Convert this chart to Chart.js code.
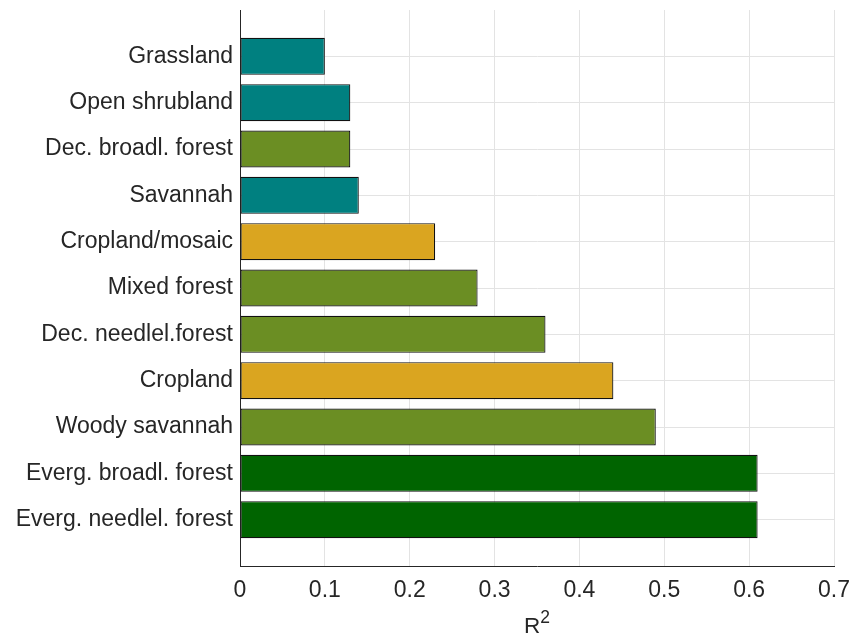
<!DOCTYPE html>
<html>
<head>
<meta charset="utf-8">
<script src="https://cdn.jsdelivr.net/npm/chart.js@4.4.1/dist/chart.umd.min.js"></script>
<style>
  html, body { margin: 0; padding: 0; background: #ffffff; }
  #wrap { width: 851px; height: 638px; position: relative; }
</style>
</head>
<body>
<div id="wrap"><canvas id="c" width="851" height="638"></canvas></div>
<script>
// Land-cover classes, top to bottom
const categories = [
  'Grassland',
  'Open shrubland',
  'Dec. broadl. forest',
  'Savannah',
  'Cropland/mosaic',
  'Mixed forest',
  'Dec. needlel.forest',
  'Cropland',
  'Woody savannah',
  'Everg. broadl. forest',
  'Everg. needlel. forest'
];
// Coefficient of determination per class
const r2Values = [0.10, 0.13, 0.13, 0.14, 0.23, 0.28, 0.36, 0.44, 0.49, 0.61, 0.61];
// Vegetation group of each class
const groups = ['sparse', 'sparse', 'decid', 'sparse', 'crop', 'decid', 'decid', 'crop', 'decid', 'evergreen', 'evergreen'];
const groupColors = { sparse: '#008080', decid: '#6b8e23', crop: '#daa520', evergreen: '#006400' };
const xTicks = [0, 0.1, 0.2, 0.3, 0.4, 0.5, 0.6, 0.7];
const xTitle = 'R';
const xTitleSup = '2';

// Empty slots above and below keep a full band of space at both ends
const labels = [''].concat(categories, ['']);
const values = [null].concat(r2Values, [null]);
const colors = ['#fff'].concat(groups.map(g => groupColors[g]), ['#fff']);

const textColor = '#262626';
const fontFamily = '"Liberation Sans", Arial, sans-serif';
const font = { family: fontFamily, size: 23 };

// Axis title with a raised exponent, centred under the plot area
const superTitle = {
  id: 'superTitle',
  afterDraw(chart) {
    const ctx = chart.ctx;
    const area = chart.chartArea;
    ctx.save();
    ctx.fillStyle = textColor;
    ctx.textBaseline = 'alphabetic';
    ctx.textAlign = 'left';
    ctx.font = '22.5px ' + fontFamily;
    const wBase = ctx.measureText(xTitle).width;
    ctx.font = '17.5px ' + fontFamily;
    const wSup = ctx.measureText(xTitleSup).width;
    const gap = 0;
    const x0 = (area.left + area.right) / 2 - (wBase + gap + wSup) / 2;
    const baseY = 633;
    ctx.font = '22.5px ' + fontFamily;
    ctx.fillText(xTitle, x0, baseY);
    ctx.font = '17.5px ' + fontFamily;
    ctx.fillText(xTitleSup, x0 + wBase + gap, baseY - 10);
    ctx.restore();
  }
};

new Chart(document.getElementById('c'), {
  type: 'bar',
  data: {
    labels: labels,
    datasets: [{
      data: values,
      backgroundColor: colors,
      borderColor: '#111111',
      borderWidth: 1.2,
      borderSkipped: false,
      categoryPercentage: 1,
      barPercentage: 0.8
    }]
  },
  options: {
    indexAxis: 'y',
    responsive: false,
    animation: false,
    layout: { padding: { left: 0, right: 17, top: 10, bottom: 0 } },
    plugins: { legend: { display: false }, tooltip: { enabled: false } },
    scales: {
      y: {
        type: 'category',
        offset: false,
        afterFit: s => { s.width = 240; s.paddingTop = 0; s.paddingBottom = 0; },
        border: { display: true, color: '#262626', width: 1 },
        grid: {
          offset: false,
          drawTicks: false,
          color: ctx => (ctx.index === 0 || ctx.index === labels.length - 1) ? 'rgba(0,0,0,0)' : '#e3e3e3',
          lineWidth: 1
        },
        ticks: { color: textColor, font: font, padding: 7, autoSkip: false }
      },
      x: {
        type: 'linear',
        min: 0,
        max: 0.7,
        afterBuildTicks: axis => { axis.ticks = xTicks.map(v => ({ value: v })); },
        afterFit: s => { s.height = 72; s.paddingLeft = 0; s.paddingRight = 0; },
        border: { display: true, color: '#262626', width: 1 },
        grid: {
          drawTicks: false,
          color: ctx => ctx.index === 0 ? 'rgba(0,0,0,0)' : '#e3e3e3',
          lineWidth: 1
        },
        ticks: {
          color: textColor,
          font: font,
          padding: 11,
          maxRotation: 0,
          callback: v => String(Math.round(v * 10) / 10)
        },
        title: { display: false }
      }
    }
  },
  plugins: [superTitle]
});
</script>
</body>
</html>
